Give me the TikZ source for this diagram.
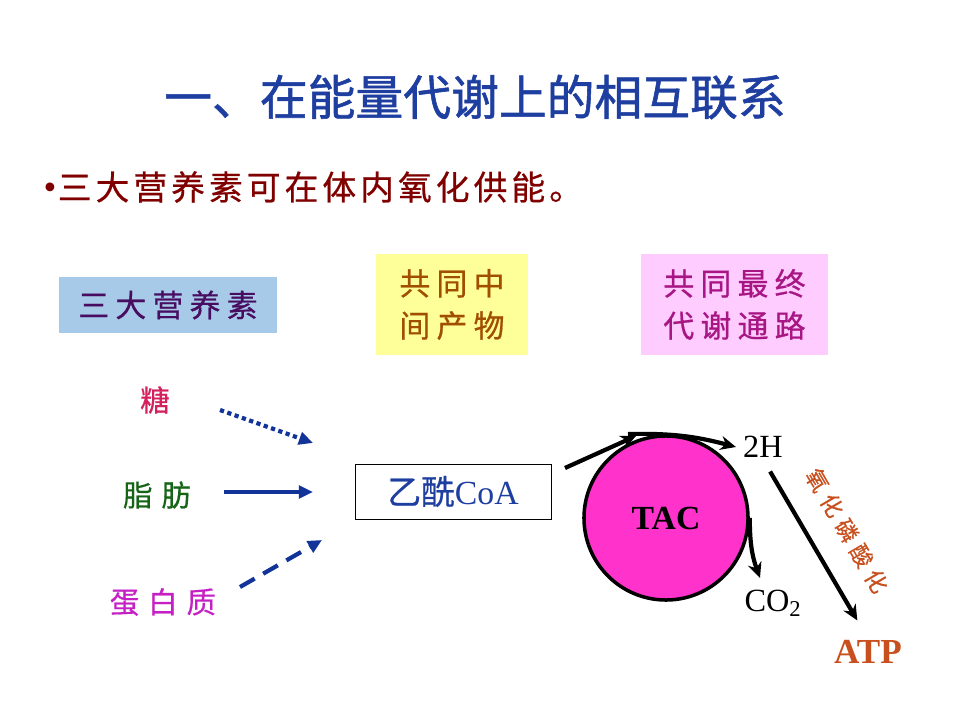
\documentclass[tikz,border=0pt]{standalone}
\usepackage{fontspec}
\setmainfont{Liberation Serif}
\newfontfamily\cjk[FakeBold=0.6]{Noto Sans CJK SC}
\newfontfamily\cjktitle[FakeBold=1.2]{Noto Sans CJK SC}
\newfontfamily\cjksp[LetterSpace=12,FakeBold=0.6]{Noto Sans CJK SC}
\newfontfamily\cjkbox[LetterSpace=20,FakeBold=0.6]{Noto Sans CJK SC}
\newfontfamily\cjkwide[LetterSpace=30,FakeBold=0.4]{Noto Sans CJK SC}
\usetikzlibrary{arrows.meta}
\definecolor{titleblue}{RGB}{30,62,160}
\definecolor{bulletred}{RGB}{128,0,0}
\definecolor{boxblue}{RGB}{166,202,232}
\definecolor{boxyellow}{RGB}{255,255,153}
\definecolor{boxpink}{RGB}{255,204,255}
\definecolor{txtpurple}{RGB}{72,12,96}
\definecolor{txtbrown}{RGB}{160,78,0}
\definecolor{txtmagenta}{RGB}{168,22,132}
\definecolor{sugarc}{RGB}{212,32,92}
\definecolor{fatc}{RGB}{22,100,22}
\definecolor{protc}{RGB}{196,32,196}
\definecolor{arrblue}{RGB}{18,52,152}
\definecolor{tacc}{RGB}{255,51,204}
\definecolor{atpc}{RGB}{200,80,30}
\begin{document}
\begin{tikzpicture}[x=0.025cm,y=-0.025cm,
    lbl/.style={inner sep=1pt},
    bigbox/.style={inner sep=0pt,minimum height=2.525cm,align=center,
      font=\cjkbox\fontsize{22}{30}\selectfont},
    arr/.style={draw=arrblue,line width=3pt,-{Triangle[length=10pt,width=9pt]}},
    blk/.style={line width=3pt,-{Stealth[length=11pt,width=10pt]}}]
\useasboundingbox (0,0) rectangle (960,720);
% title and bullet line
\node[lbl,text=titleblue] (ttl) at (475,97) {\cjktitle\fontsize{34}{40}\selectfont 一、在能量代谢上的相互联系};
\node[lbl,anchor=west,text=bulletred] (bul) at (42,187)
  {\fontsize{26}{30}\selectfont •\hspace{1pt}\cjksp\fontsize{24}{30}\selectfont 三大营养素可在体内氧化供能。};
% the three headings
\node[bigbox,fill=boxblue,minimum width=5.45cm,minimum height=1.4cm,text=txtpurple] (nutr) at (168,305) {三大营养素};
\node[bigbox,fill=boxyellow,minimum width=3.8cm,text=txtbrown] (mid) at (452,304.5) {共同中\\间产物};
\node[bigbox,fill=boxpink,minimum width=4.675cm,text=txtmagenta] (path) at (734.5,304.5) {共同最终\\代谢通路};
% nutrients
\node[lbl,text=sugarc] (sugar) at (155,400) {\cjk\fontsize{21}{24}\selectfont 糖};
\node[lbl,text=fatc] (fat) at (157,495) {\cjkwide\fontsize{21}{24}\selectfont 脂肪};
\node[lbl,text=protc] (prot) at (163,602) {\cjkwide\fontsize{21}{24}\selectfont 蛋白质};
\node[draw,line width=0.6pt,inner sep=0pt,minimum width=4.9cm,minimum height=1.375cm,text=titleblue]
  (acoa) at (453,491.5) {\fontsize{24}{26}\selectfont{\cjk 乙酰}CoA};
\coordinate (s0) at (220,410);
\coordinate (s1) at (313,443);
\coordinate (f0) at (224,492);
\coordinate (f1) at (313,492);
\coordinate (p0) at (240,587);
\coordinate (p1) at (322,540);
\draw[arr,dash pattern=on 3pt off 2.5pt] (s0) -- (s1);
\draw[arr] (f0) -- (f1);
\draw[arr,dash pattern=on 12pt off 7pt] (p0) -- (p1);
% cycle
\node[circle,draw,line width=2.5pt,fill=tacc,minimum size=4.1cm,inner sep=0pt,
  font=\bfseries\fontsize{24}{28}\selectfont] (tac) at (666,518) {TAC};
\node[lbl,font=\fontsize{23}{26}\selectfont] (hh) at (763,447) {2H};
\node[lbl,font=\fontsize{23}{26}\selectfont] (co2) at (773,603) {CO\textsubscript{2}};
\node[lbl,text=atpc,font=\bfseries\fontsize{25}{30}\selectfont] (atp) at (868,652) {ATP};
\coordinate (k0) at (565,468);
\coordinate (k1) at (636,436);
\coordinate (k2) at (760,578);
\draw[blk] (k0) -- (k1);
\draw[blk] (628,434) to[bend left=8] ([xshift=-4pt]hh.west);
\draw[blk] (tac.east) to[out=-90,in=110] (k2);
\draw[blk,shorten <=10pt,shorten >=15pt] (hh.south) -- (atp.north)
  node[midway,sloped,above=17pt,inner sep=0pt,text=atpc] {\cjkwide\fontsize{16}{18}\selectfont 氧化磷酸化};
\end{tikzpicture}
\end{document}
